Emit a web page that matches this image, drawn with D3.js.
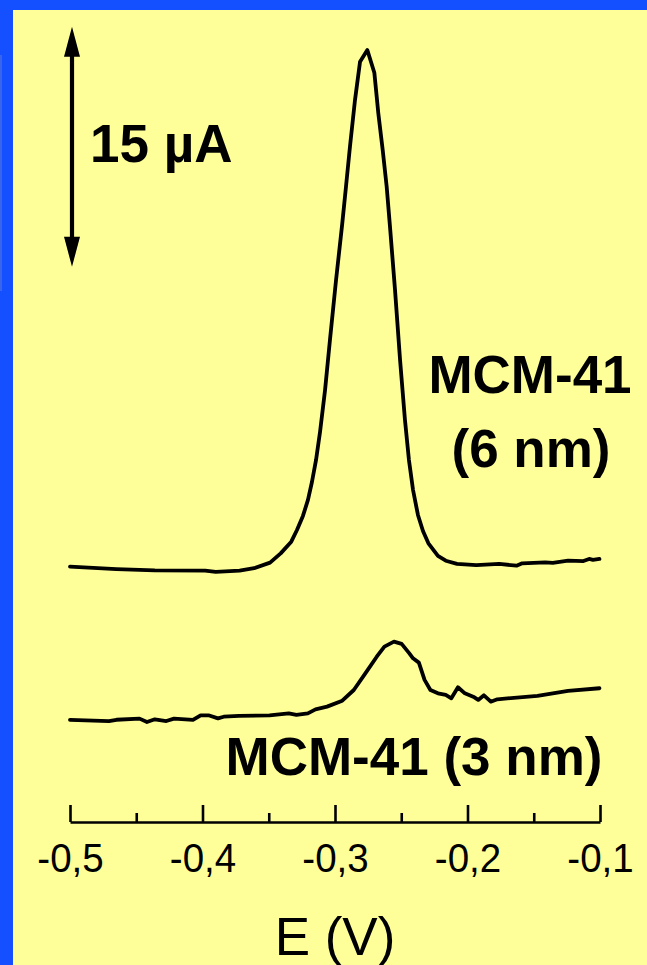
<!DOCTYPE html>
<html>
<head>
<meta charset="utf-8">
<script src="https://cdn.jsdelivr.net/npm/d3@7"></script>
<style>
  html, body { margin: 0; padding: 0; background: #1450ff; }
  svg { display: block; }
</style>
</head>
<body>
<svg id="chart" width="647" height="965"></svg>
<script>
// Differential pulse voltammograms, two MCM-41 samples (potential in V, current in µA, stacked)
const potential6nm = [-0.500,-0.465,-0.436,-0.398,-0.390,-0.372,-0.361,-0.349,-0.341,-0.333,-0.3287,-0.3242,-0.3204,-0.3174,-0.3143,-0.3113,-0.3075,-0.3038,-0.2992,-0.2945,-0.2917,-0.2887,-0.2849,-0.2811,-0.2756,-0.2703,-0.2673,-0.2640,-0.2610,-0.2585,-0.2547,-0.2509,-0.2472,-0.2442,-0.2411,-0.2374,-0.2336,-0.2295,-0.2223,-0.2164,-0.2079,-0.1934,-0.1761,-0.1630,-0.1587,-0.1414,-0.1356,-0.1241,-0.1125,-0.1082,-0.1053,-0.1004];
const current6nm   = [16.46,16.31,16.23,16.21,16.13,16.21,16.36,16.71,17.29,18.02,18.75,19.63,20.63,21.75,23.13,24.88,27.50,30.63,34.38,37.92,40.21,42.71,45.63,48.02,48.75,47.33,44.79,42.50,40.21,37.71,33.75,29.38,25.63,23.13,21.25,19.69,18.69,17.92,17.13,16.83,16.63,16.56,16.63,16.52,16.67,16.73,16.69,16.83,16.81,16.94,16.88,16.94];

const potential3nm = [-0.500,-0.4706,-0.4649,-0.4475,-0.4419,-0.4360,-0.4273,-0.4215,-0.4072,-0.4014,-0.3955,-0.3883,-0.3840,-0.3725,-0.3494,-0.3349,-0.3291,-0.3205,-0.3147,-0.3060,-0.2945,-0.2858,-0.2771,-0.2685,-0.2627,-0.2555,-0.2497,-0.2439,-0.2411,-0.2367,-0.2324,-0.2280,-0.2223,-0.2164,-0.2122,-0.2072,-0.2020,-0.1948,-0.1919,-0.1876,-0.1824,-0.1775,-0.1472,-0.1241,-0.1004];
const current3nm   = [6.88,6.81,6.89,6.96,6.75,6.92,6.81,6.96,6.88,7.17,7.17,6.98,7.08,7.13,7.17,7.29,7.19,7.29,7.54,7.71,8.08,8.75,9.79,10.83,11.46,11.77,11.63,11.04,10.73,10.46,9.38,8.75,8.54,8.44,8.23,8.92,8.54,8.29,8.13,8.42,8.02,8.17,8.38,8.69,8.86];

const majorTicks = [-0.5, -0.4, -0.3, -0.2, -0.1];
const minorTicks = [-0.45, -0.35, -0.25, -0.15];
const scaleBar = [35.2, 50.2];   // 15 µA current bar
const scaleBarLabel = "15 µA";
const curveLabels6 = ["MCM-41", "(6 nm)"];
const curveLabel3 = "MCM-41 (3 nm)";
const xTitle = "E (V)";

const svg = d3.select("#chart");
const W = 647, H = 965;

// page frame: blue border with pale yellow panel
svg.append("rect").attr("width", W).attr("height", H).attr("fill", "#1450ff");
svg.append("rect").attr("x", 0).attr("y", 55).attr("width", 2).attr("height", 236).attr("fill", "#3a64ea");
svg.append("rect").attr("x", 13).attr("y", 10).attr("width", W - 13).attr("height", H - 10).attr("fill", "#ffff99");

const x = d3.scaleLinear().domain([-0.5, -0.1]).range([70, 600]);
const y = d3.scaleLinear().domain([0, 50]).range([830, 30]);

// potential axis: ticks pointing up, labels below
const axisY = 822;
const fmt = v => d3.format(".1f")(v).replace("\u2212", "-").replace(".", ",");
const axis = d3.axisBottom(x).tickValues(majorTicks).tickSize(-17).tickSizeOuter(0).tickFormat(fmt);
const gAxis = svg.append("g").attr("transform", `translate(0,${axisY})`).call(axis);
gAxis.select(".domain").attr("stroke", "#000").attr("stroke-width", 2.6);
gAxis.selectAll(".tick line").attr("stroke", "#000").attr("stroke-width", 2.6);
gAxis.selectAll(".tick text")
  .attr("y", 50).attr("dy", 0)
  .attr("transform", "scale(0.94,1)")
  .attr("fill", "#000")
  .style("font-family", "'Liberation Sans', Arial, Helvetica, sans-serif")
  .style("font-size", "41px");
const minorAxis = d3.axisBottom(x).tickValues(minorTicks).tickSize(-9).tickFormat("");
const gMinor = svg.append("g").attr("transform", `translate(0,${axisY})`).call(minorAxis);
gMinor.select(".domain").remove();
gMinor.selectAll(".tick line").attr("stroke", "#000").attr("stroke-width", 2.6);

svg.append("text")
  .attr("x", 335).attr("y", 955)
  .attr("text-anchor", "middle")
  .style("font-family", "'Liberation Sans', Arial, Helvetica, sans-serif")
  .style("font-size", "53px")
  .text(xTitle);

// voltammograms
const line = d3.line().x(d => x(d[0])).y(d => y(d[1]));
const drawCurve = (es, is) => svg.append("path")
  .datum(es.map((e, i) => [e, is[i]]))
  .attr("d", line)
  .attr("fill", "none")
  .attr("stroke", "#000")
  .attr("stroke-width", 3.8)
  .attr("stroke-linejoin", "round")
  .attr("stroke-linecap", "round");
drawCurve(potential6nm, current6nm);
drawCurve(potential3nm, current3nm);

// current scale bar (double-headed arrow)
const barX = 72;
const y0 = y(scaleBar[0]), y1 = y(scaleBar[1]);
const headL = 30, headW = 8;
svg.append("line")
  .attr("x1", barX).attr("x2", barX)
  .attr("y1", y1 + headL - 2).attr("y2", y0 - headL + 2)
  .attr("stroke", "#000").attr("stroke-width", 4.2);
svg.append("path")
  .attr("d", `M${barX},${y1} L${barX + headW},${y1 + headL} L${barX - headW},${y1 + headL} Z`)
  .attr("fill", "#000");
svg.append("path")
  .attr("d", `M${barX},${y0} L${barX + headW},${y0 - headL} L${barX - headW},${y0 - headL} Z`)
  .attr("fill", "#000");

const bold = sel => sel
  .style("font-family", "'Liberation Sans', Arial, Helvetica, sans-serif")
  .style("font-weight", "bold")
  .style("font-size", "53px")
  .attr("fill", "#000");

svg.append("text").attr("x", 90).attr("y", 162).call(bold).text(scaleBarLabel);

svg.append("text").attr("x", 530).attr("y", 393).attr("text-anchor", "middle").call(bold).text(curveLabels6[0]);
svg.append("text").attr("x", 531).attr("y", 467).attr("text-anchor", "middle").call(bold).text(curveLabels6[1]);
svg.append("text").attr("x", 414).attr("y", 775).attr("text-anchor", "middle").call(bold).text(curveLabel3);
</script>
</body>
</html>
